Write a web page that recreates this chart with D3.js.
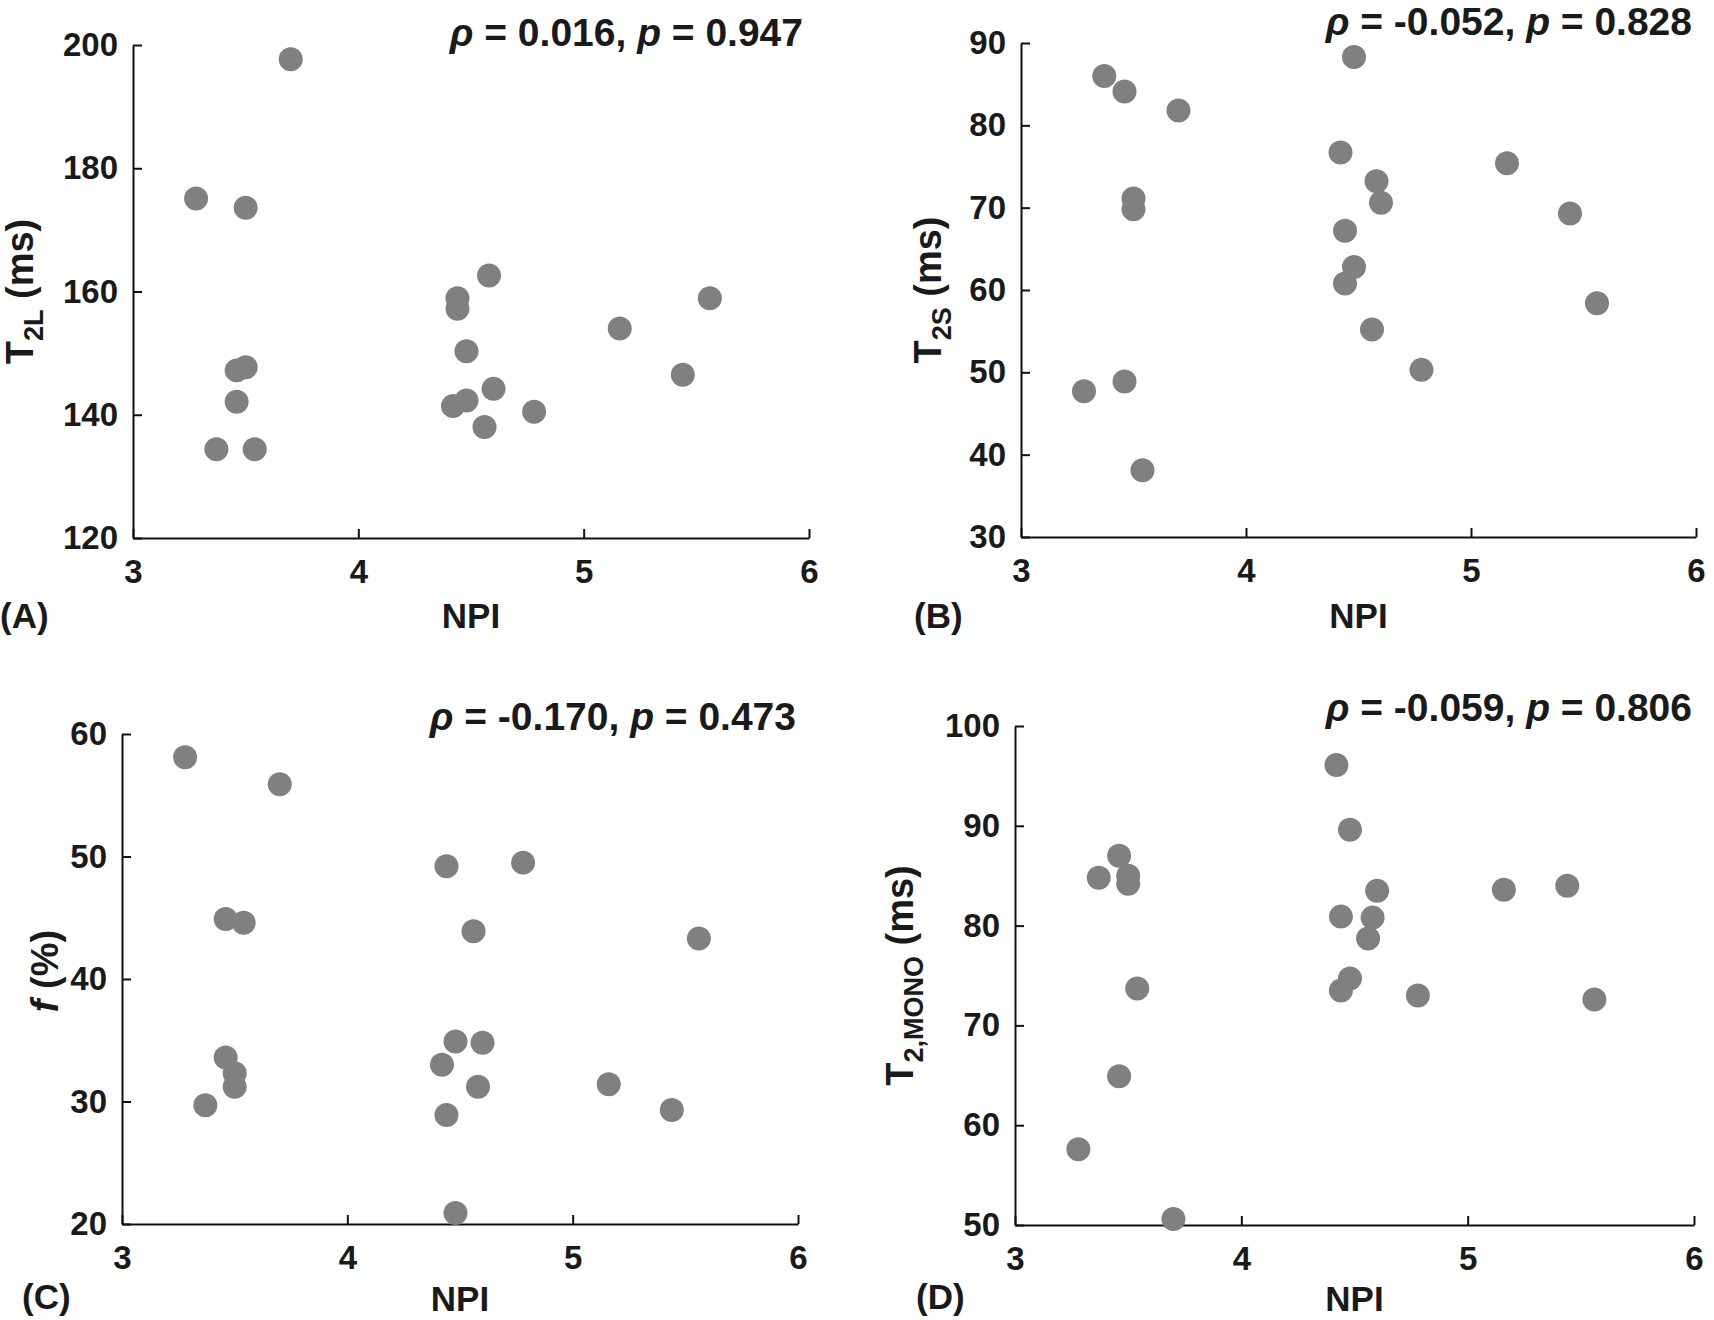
<!DOCTYPE html>
<html>
<head>
<meta charset="utf-8">
<script src="https://cdn.jsdelivr.net/npm/d3@7/dist/d3.min.js"></script>
<style>
  html, body { margin: 0; padding: 0; background: #fff; }
  svg { display: block; }
  text { font-family: "Liberation Sans", Arial, Helvetica, sans-serif; font-weight: bold; fill: #1a1a1a; }
</style>
</head>
<body>
<svg id="chart" width="1714" height="1320"></svg>
<script>
// ---- data (one entry per patient, ordered by NPI) ----
const npi    = [3.28, 3.37, 3.46, 3.46, 3.50, 3.50, 3.54, 3.70, 4.42, 4.44, 4.44, 4.48, 4.48, 4.56, 4.58, 4.60, 4.78, 5.16, 5.44, 5.56];
const t2L    = [175.1, 134.4, 147.2, 142.1, 173.6, 147.7, 134.4, 197.7, 141.4, 157.2, 158.9, 150.3, 142.3, 138.0, 162.6, 144.2, 140.5, 154.0, 146.5, 158.9];
const t2S    = [47.7, 86.0, 84.1, 48.9, 71.1, 69.8, 38.1, 81.8, 76.7, 60.8, 67.2, 88.3, 62.8, 55.2, 73.2, 70.6, 50.3, 75.4, 69.3, 58.4];
const fPct   = [58.1, 29.7, 44.9, 33.6, 32.3, 31.2, 44.6, 55.9, 33.0, 49.2, 28.9, 34.9, 20.9, 43.9, 31.2, 34.8, 49.5, 31.4, 29.3, 43.3];
const t2Mono = [57.6, 84.8, 87.0, 64.9, 85.0, 84.2, 73.7, 50.6, 96.1, 80.9, 73.5, 89.6, 74.7, 78.7, 80.8, 83.5, 73.0, 83.6, 84.0, 72.6];

const xTicks      = [3, 4, 5, 6];
const yTicksA     = [120, 140, 160, 180, 200];
const yTicksB     = [30, 40, 50, 60, 70, 80, 90];
const yTicksC     = [20, 30, 40, 50, 60];
const yTicksD     = [50, 60, 70, 80, 90, 100];
const panelLabels = ["(A)", "(B)", "(C)", "(D)"];
const rhoVals     = ["0.016", "-0.052", "-0.170", "-0.059"];
const pVals       = ["0.947", "0.828", "0.473", "0.806"];
const xLabel      = "NPI";

// ---- layout ----
const panels = [
  { values: t2L,    yTicks: yTicksA, left: 133,  right: 809,  top: 45,  bottom: 538,
    ylab: { x: 33,  dyc: 0, main: "T", sub: "2L", rest: "(ms)" },
    annot: { x: 803, y: 46 }, letter: { x: 0, y: 628, anchor: "start" }, xlabY: 628 },
  { values: t2S,    yTicks: yTicksB, left: 1021, right: 1696, top: 43,  bottom: 537,
    ylab: { x: 941, dyc: 0, main: "T", sub: "2S", rest: "(ms)" },
    annot: { x: 1692, y: 35 }, letter: { x: 914, y: 628, anchor: "start" }, xlabY: 628 },
  { values: fPct,   yTicks: yTicksC, left: 122,  right: 798,  top: 734, bottom: 1224,
    ylab: { x: 58, dyc: -8, italic: "f", rest: "(%)" },
    annot: { x: 796, y: 730 }, letter: { x: 22, y: 1309, anchor: "start" }, xlabY: 1311 },
  { values: t2Mono, yTicks: yTicksD, left: 1015, right: 1694, top: 726, bottom: 1225,
    ylab: { x: 913, dyc: 0, main: "T", sub: "2,MONO", rest: "(ms)" },
    annot: { x: 1692, y: 721 }, letter: { x: 916, y: 1309, anchor: "start" }, xlabY: 1311 }
];

const svg = d3.select("#chart");
svg.append("rect").attr("width", 1714).attr("height", 1320).attr("fill", "#fff");

panels.forEach((p, i) => {
  const yExt = d3.extent(p.yTicks);
  const x = d3.scaleLinear().domain(d3.extent(xTicks)).range([p.left, p.right]);
  const y = d3.scaleLinear().domain(yExt).range([p.bottom, p.top]);
  const g = svg.append("g");

  // x axis
  const gx = g.append("g")
    .attr("transform", `translate(0,${p.bottom})`)
    .call(d3.axisBottom(x).tickValues(xTicks).tickFormat(d3.format("d"))
      .tickSizeInner(-9).tickSizeOuter(0).tickPadding(22));
  // y axis
  const gy = g.append("g")
    .attr("transform", `translate(${p.left},0)`)
    .call(d3.axisLeft(y).tickValues(p.yTicks).tickFormat(d3.format("d"))
      .tickSizeInner(-9).tickSizeOuter(0).tickPadding(15));

  [gx, gy].forEach(a => {
    a.attr("font-size", null).attr("font-family", null);
    a.select(".domain").attr("stroke", "#111").attr("stroke-width", 2);
    a.selectAll(".tick line").attr("stroke", "#111").attr("stroke-width", 2);
    a.selectAll(".tick text")
      .attr("fill", "#1a1a1a")
      .style("font-family", "'Liberation Sans', Arial, sans-serif")
      .style("font-weight", "bold")
      .style("font-size", "33px");
  });

  // x label
  g.append("text")
    .attr("x", (p.left + p.right) / 2).attr("y", p.xlabY)
    .attr("text-anchor", "middle").style("font-size", "35px")
    .text(xLabel);

  // panel letter
  g.append("text")
    .attr("x", p.letter.x).attr("y", p.letter.y)
    .attr("text-anchor", p.letter.anchor).style("font-size", "35px")
    .text(panelLabels[i]);

  // y label (rotated)
  const cy = (p.top + p.bottom) / 2 + p.ylab.dyc;
  const yl = g.append("text")
    .attr("transform", `translate(${p.ylab.x},${cy}) rotate(-90)`)
    .attr("text-anchor", "middle").style("font-size", "38px");
  if (p.ylab.italic) {
    yl.append("tspan").style("font-style", "italic").text(p.ylab.italic);
    yl.append("tspan").text("\u00a0" + p.ylab.rest);
  } else {
    yl.append("tspan").text(p.ylab.main);
    yl.append("tspan").attr("dy", 10).style("font-size", "27px").text(p.ylab.sub);
    yl.append("tspan").attr("dy", -10).text("\u00a0" + p.ylab.rest);
  }

  // annotation
  const an = g.append("text")
    .attr("x", p.annot.x).attr("y", p.annot.y)
    .attr("text-anchor", "end").style("font-size", "39px");
  an.append("tspan").style("font-style", "italic").text("\u03c1");
  an.append("tspan").text(` = ${rhoVals[i]}, `);
  an.append("tspan").style("font-style", "italic").text("p");
  an.append("tspan").text(` = ${pVals[i]}`);

  // points
  g.append("g").selectAll("circle")
    .data(npi.map((v, k) => [v, p.values[k]]))
    .join("circle")
    .attr("cx", d => x(d[0]))
    .attr("cy", d => y(d[1]))
    .attr("r", 12)
    .attr("fill", "#808080");
});
</script>
</body>
</html>
